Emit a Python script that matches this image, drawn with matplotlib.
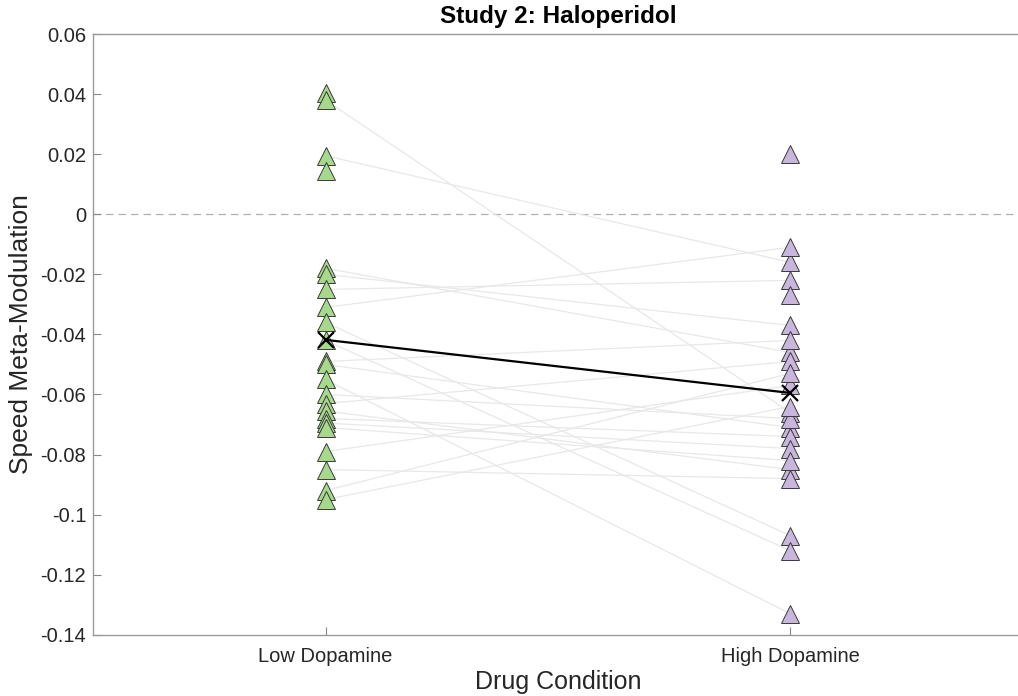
import numpy as np
import matplotlib
matplotlib.use("Agg")
import matplotlib.pyplot as plt

plt.rcParams['font.family'] = ['Liberation Sans', 'DejaVu Sans']

conditions = ['Low Dopamine', 'High Dopamine']

# paired per-subject values (nan = no partner in the other condition)
low_dopamine = [0.0405, 0.038, 0.0195, 0.0145, -0.018, -0.020, -0.025, -0.031, -0.036,
                -0.042, -0.049, -0.050, -0.055, -0.060, -0.063, -0.0655, -0.068,
                -0.0695, -0.071, -0.079, -0.085, -0.092, -0.095, np.nan, np.nan]
high_dopamine = [np.nan, -0.066, -0.016, np.nan, -0.046, -0.037, -0.022, -0.011, -0.107,
                 -0.112, -0.042, -0.071, -0.133, -0.068, -0.049, -0.085, -0.074,
                 -0.078, -0.082, -0.057, -0.088, -0.053, -0.064, 0.020, -0.027]

yticks = [0.06, 0.04, 0.02, 0, -0.02, -0.04, -0.06, -0.08, -0.1, -0.12, -0.14]

low = np.array(low_dopamine)
high = np.array(high_dopamine)

fig = plt.figure(figsize=(10.18, 6.96), dpi=100)
ax = fig.add_axes([0.0915, 0.088, 0.913, 0.863])

# subject lines
for a, b in zip(low, high):
    if not (np.isnan(a) or np.isnan(b)):
        ax.plot([1, 2], [a, b], color='#e8e8e8', lw=0.9, zorder=1)

ax.axhline(0, color='#b0b0b0', lw=0.9, ls=(0, (6, 4)), zorder=0)

ax.plot(np.ones(len(low)), low, linestyle='none', marker='^', markersize=12.5,
        markerfacecolor='#a6d98a', markeredgecolor='#3a3a3a', markeredgewidth=0.7, zorder=2)
ax.plot(np.full(len(high), 2), high, linestyle='none', marker='^', markersize=12.5,
        markerfacecolor='#c8b6dc', markeredgecolor='#3a3a3a', markeredgewidth=0.7, zorder=2)

means = [np.nanmean(low), np.nanmean(high)]
ax.plot([1, 2], means, color='black', lw=1.6, marker='x', markersize=11,
        markeredgewidth=1.6, zorder=3)

ax.set_xlim(0.5, 2.5)
ax.set_ylim(-0.14, 0.06)
ax.set_xticks([1, 2])
ax.set_xticklabels(conditions, fontsize=14.5)
ax.set_yticks(yticks)
ax.set_yticklabels([f'{t:g}' for t in yticks], fontsize=14.5)
ax.tick_params(direction='in', length=6, color='#888888', labelcolor='#262626', width=0.8)
ax.tick_params(axis='x', pad=9)
ax.tick_params(axis='y', pad=5)
for s in ax.spines.values():
    s.set_color('#999999')
    s.set_linewidth(1.0)

ax.set_title('Study 2: Haloperidol', fontsize=17.5, fontweight='bold', pad=8)
ax.set_xlabel('Drug Condition', fontsize=18, color='#262626')
ax.set_ylabel('Speed Meta-Modulation', fontsize=19, color='#262626')
ax.xaxis.set_label_coords(0.5, -0.058)
ax.yaxis.set_label_coords(-0.065, 0.5)

fig.savefig('out.png', dpi=100)
